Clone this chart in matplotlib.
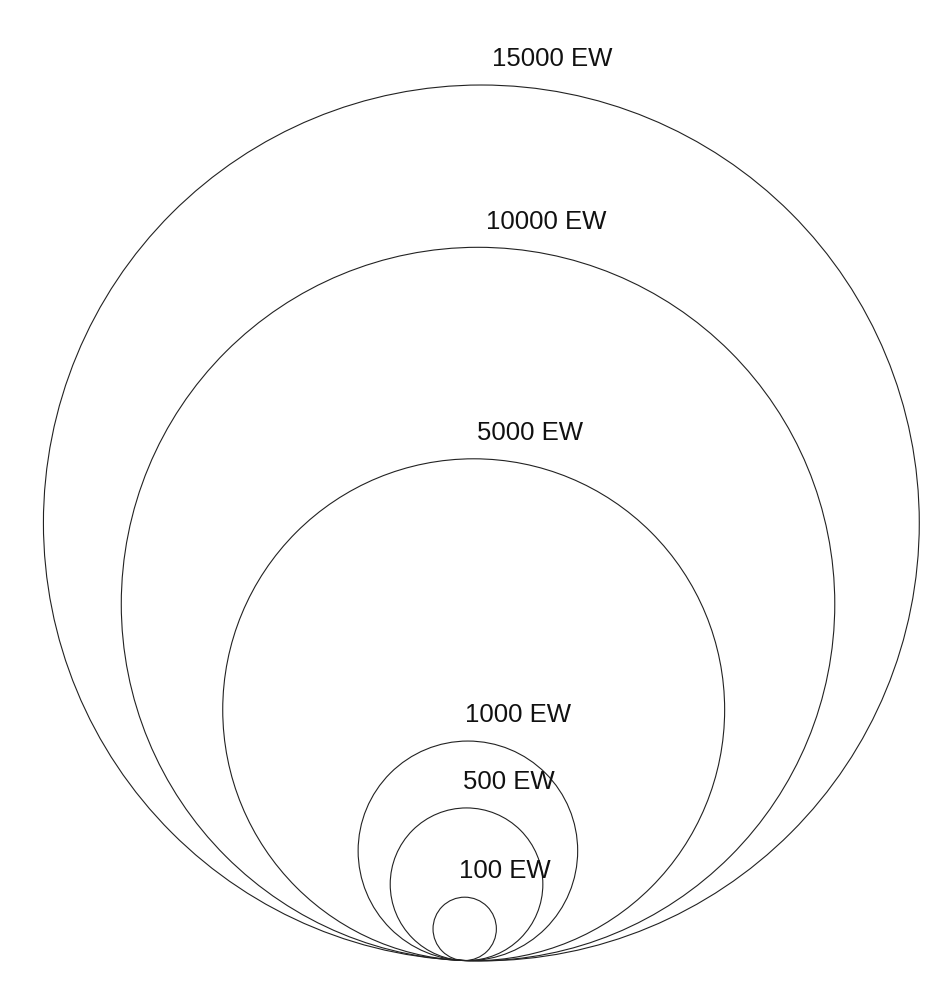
import numpy as np
import matplotlib
matplotlib.use('Agg')
import matplotlib.pyplot as plt
from matplotlib.patches import Circle

plt.rcParams['font.family'] = ['Liberation Sans', 'DejaVu Sans']

# values of the proportional circles
values = [15000, 10000, 5000, 1000, 500, 100]
labels = ['15000 EW', '10000 EW', '5000 EW', '1000 EW', '500 EW', '100 EW']

# sqrt scale, canvas works in pixel units
scale_a = 3.612
scale_b = -4.45
# all circles touch in one point, slightly tilted
tx, ty = 463.4, 960.5
tilt = np.arcsin(0.041)

fig = plt.figure(figsize=(9.43, 9.88), dpi=100)
ax = fig.add_axes([0, 0, 1, 1])
ax.set_xlim(0, 943)
ax.set_ylim(988, 0)
ax.set_aspect('equal')
ax.axis('off')

for v, lab in zip(values, labels):
    r = scale_a * np.sqrt(v) + scale_b
    cx = tx + r * np.sin(tilt)
    cy = ty - r * np.cos(tilt)
    ax.add_patch(Circle((cx, cy), r, fill=False, edgecolor='#222222', linewidth=0.8))
    # label sits above the top of the circle
    top_x = tx + 2 * r * np.sin(tilt)
    top_y = ty - 2 * r * np.cos(tilt)
    ax.text(top_x - 7, top_y - 26, lab, fontsize=18.5, ha='left', va='center', color='#111111')

fig.savefig('out.png', dpi=100, facecolor='white')
